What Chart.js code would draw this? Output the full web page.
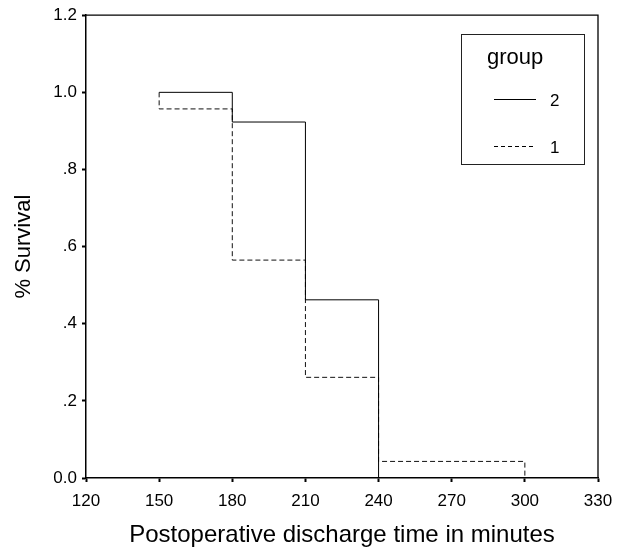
<!DOCTYPE html>
<html>
<head>
<meta charset="utf-8">
<script src="https://cdn.jsdelivr.net/npm/chart.js@4.4.0/dist/chart.umd.min.js"></script>
<style>
html, body { margin: 0; padding: 0; background: #fff; }
</style>
</head>
<body>
<canvas id="km_chart" width="623" height="550"></canvas>
<script>
// axis ticks
var xTicks = [120, 150, 180, 210, 240, 270, 300, 330];
var yTicks = [0, 0.2, 0.4, 0.6, 0.8, 1.0, 1.2];

// survival steps per group (time in minutes, cumulative survival)
var group2Times = [150, 180, 210, 240];
var group2Survival = [1.0, 0.923, 0.462, 0.0];
var group1Times = [150, 150, 180, 210, 240, 300];
var group1Survival = [1.0, 0.957, 0.565, 0.261, 0.043, 0.0];

var groupLabels = ["2", "1"];
var legendTitle = "group";

var FONT = "'Liberation Sans', Arial, sans-serif";

function toPoints(xs, ys) {
    var pts = [];
    for (var i = 0; i < xs.length; i++) {
        pts.push({ x: xs[i], y: ys[i] });
    }
    return pts;
}

function yLabel(v) {
    var r = Math.round(v * 10) / 10;
    if (r === 0 || r >= 1) return r.toFixed(1);
    return r.toFixed(1).substring(1);
}

// top + right frame of the plot box
var framePlugin = {
    id: 'frame',
    afterDraw: function (chart) {
        var a = chart.chartArea, ctx = chart.ctx;
        ctx.save();
        ctx.strokeStyle = '#000';
        ctx.lineWidth = 1.3;
        ctx.beginPath();
        ctx.moveTo(a.left, a.top);
        ctx.lineTo(a.right, a.top);
        ctx.lineTo(a.right, a.bottom);
        ctx.stroke();
        ctx.restore();
    }
};

// boxed legend inside the plot, like the SPSS one
var legendPlugin = {
    id: 'groupLegend',
    afterDraw: function (chart) {
        var ctx = chart.ctx;
        ctx.save();
        ctx.strokeStyle = '#222';
        ctx.lineWidth = 1;
        ctx.strokeRect(461.5, 34.5, 123, 130);
        ctx.fillStyle = '#000';
        ctx.textBaseline = 'alphabetic';
        ctx.font = '22px ' + FONT;
        ctx.fillText(legendTitle, 487, 64);
        var rows = [99.5, 146.5];
        ctx.font = '17px ' + FONT;
        for (var i = 0; i < chart.data.datasets.length; i++) {
            var ds = chart.data.datasets[i];
            ctx.beginPath();
            ctx.setLineDash(ds.borderDash ? [4, 3] : []);
            ctx.lineWidth = 1;
            ctx.strokeStyle = '#000';
            ctx.moveTo(494, rows[i]);
            ctx.lineTo(536, rows[i]);
            ctx.stroke();
            ctx.setLineDash([]);
            ctx.fillText(groupLabels[i], 550, rows[i] + 6);
        }
        ctx.restore();
    }
};

new Chart(document.getElementById("km_chart").getContext("2d"), {
    type: 'line',
    data: {
        datasets: [{
            label: groupLabels[0],
            data: toPoints(group2Times, group2Survival),
            stepped: 'before',
            borderColor: '#000',
            borderWidth: 1,
            pointRadius: 0,
            fill: false
        }, {
            label: groupLabels[1],
            data: toPoints(group1Times, group1Survival),
            stepped: 'before',
            borderColor: '#111',
            borderWidth: 1,
            borderDash: [5, 3],
            pointRadius: 0,
            fill: false
        }]
    },
    options: {
        responsive: false,
        animation: false,
        layout: { padding: { left: 0, top: 15, right: 25, bottom: 0 } },
        plugins: {
            legend: { display: false },
            tooltip: { enabled: false }
        },
        scales: {
            x: {
                type: 'linear',
                min: 120,
                max: 330,
                afterBuildTicks: function (s) { s.ticks = xTicks.map(function (v) { return { value: v }; }); },
                afterFit: function (s) { s.height = 72; },
                border: { display: true, color: '#000', width: 1.5 },
                grid: { drawOnChartArea: false, drawTicks: true, tickLength: 4, tickColor: '#000', tickWidth: 2 },
                ticks: { color: '#000', padding: 9, maxRotation: 0, font: { family: FONT, size: 17 } },
                title: {
                    display: true,
                    text: 'Postoperative discharge time in minutes',
                    color: '#000',
                    font: { family: FONT, size: 24 },
                    padding: { top: 4, bottom: 0 }
                }
            },
            y: {
                min: 0,
                max: 1.2,
                afterBuildTicks: function (s) { s.ticks = yTicks.map(function (v) { return { value: v }; }); },
                afterFit: function (s) { s.width = 86; },
                border: { display: true, color: '#000', width: 1.5 },
                grid: { drawOnChartArea: false, drawTicks: true, tickLength: 4, tickColor: '#000', tickWidth: 2 },
                ticks: { color: '#000', padding: 5, font: { family: FONT, size: 17 }, callback: yLabel },
                title: {
                    display: true,
                    text: '% Survival',
                    color: '#000',
                    font: { family: FONT, size: 22 },
                    padding: { top: 11, bottom: 0 }
                }
            }
        }
    },
    plugins: [framePlugin, legendPlugin]
});
</script>
</body>
</html>
